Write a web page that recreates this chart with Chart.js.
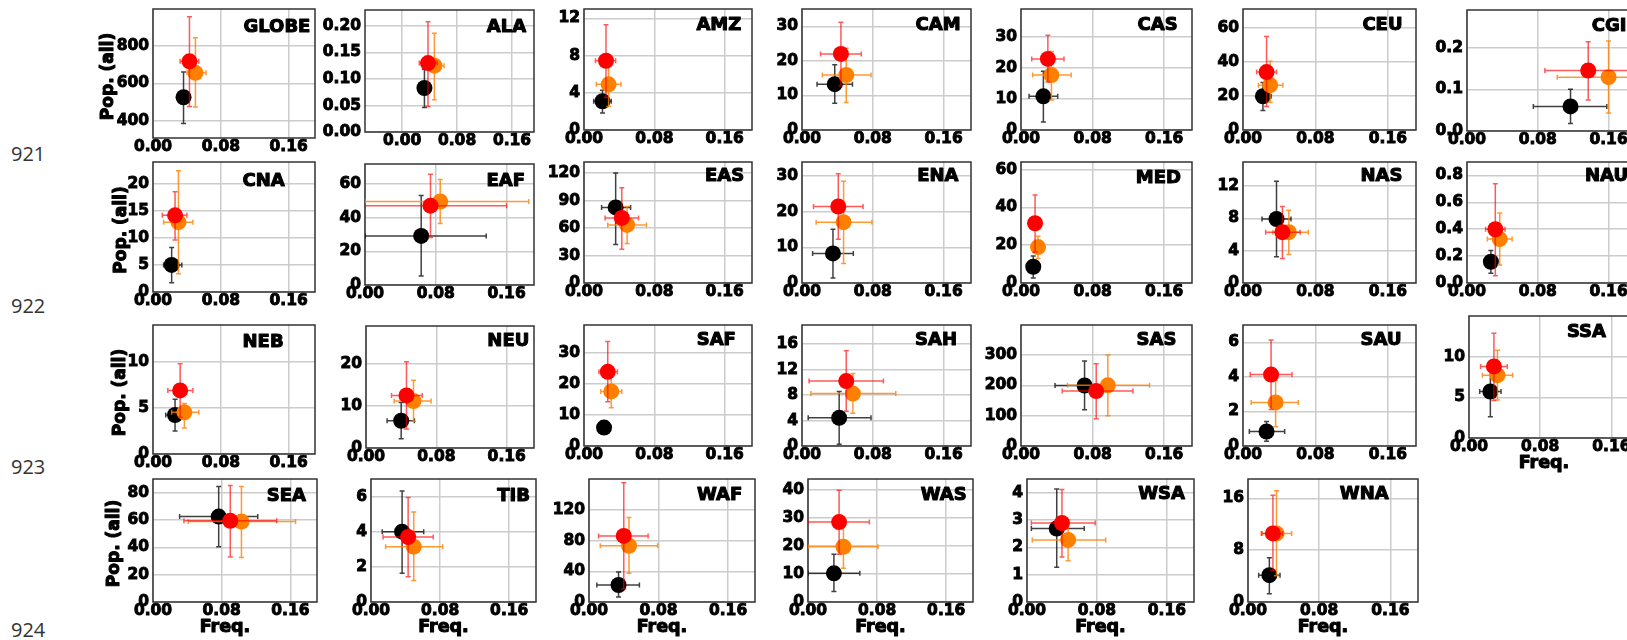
<!DOCTYPE html>
<html><head><meta charset="utf-8">
<script src="https://cdn.jsdelivr.net/npm/chart.js@4.4.0/dist/chart.umd.min.js"></script>
<style>
html,body{margin:0;padding:0;background:#fff;width:1627px;height:640px;overflow:hidden;}
#wrap{position:relative;width:1627px;height:640px;overflow:hidden;background:#fff;}
canvas.pc{position:absolute;}
.ln{position:absolute;left:11px;font-family:'Open Sans',sans-serif;font-size:20px;line-height:20px;color:#333;}
</style></head><body><div id="wrap"></div>
<script>
// ---------------- data ----------------
const regions = ['GLOBE','ALA','AMZ','CAM','CAS','CEU','CGI','CNA','EAF','EAS','ENA','MED','NAS','NAU','NEB','NEU','SAF','SAH','SAS','SAU','SSA','SEA','TIB','WAF','WAS','WSA','WNA'];
const lineNumbers = ['921','922','923','924'];
const yTitle = 'Pop. (all)';
const xTitle = 'Freq.';

const blackFreq   = [.036,.0325,.021,.037,.025,.022,.117, .022,.0635,.036,.035,.0137,.037,.027, .026,.040,.0228,.042,.071,.026,.024, .0765,.036,.034,.030,.034,.024];
const blackFreqLo = [.030,.028,.011,.017,.009,.016,.075, .0125,0,.020,.012,.011,.021,.023, .015,.024,.020,.007,.038,.007,.012, .031,.013,.009,0,.005,.012];
const blackFreqHi = [.042,.037,.031,.057,.041,.031,.158, .034,.137,.053,.058,.017,.053,.031, .034,.055,.026,.078,.090,.046,.036, .122,.061,.058,.060,.0655,.036];
const blackPop    = [525,.083,3.09,13.25,10.84,19.8,.059, 5.0,29.2,82.4,8.3,8.6,7.93,.158, 4.23,6.48,5.94,4.42,199.6,.84,5.72, 62.5,4.0,22.1,10.24,2.69,4.14];
const blackPopLo  = [384,.046,1.82,7.76,2.6,11.5,.018, 1.7,5.3,41.9,1.4,2.6,3.25,.073, 2.49,2.19,5.0,.26,119.7,.28,2.6, 40.4,1.63,6.4,3.76,1.27,1.26];
const blackPopHi  = [661,.1185,4.28,18.9,18.9,27.9,.100, 8.23,53.2,120,15.1,14.3,12.6,.242, 5.94,10.8,7.0,8.54,280.5,1.42,8.92, 84.6,6.32,39.1,17.06,4.13,6.82];

const redFreq   = [.043,.0377,.025,.044,.030,.026,.137, .026,.074,.043,.041,.0157,.0435,.032, .032,.046,.027,.050,.084,.031,.028, .090,.043,.040,.036,.040,.028];
const redFreqLo = [.032,.025,.013,.021,.012,.015,.088, .011,0,.024,.013,.013,.025,.021, .0175,.029,.017,.008,.046,.008,.013, .036,.014,.011,0,.005,.015];
const redFreqHi = [.054,.051,.036,.067,.048,.037,.187, .040,.160,.062,.069,.019,.063,.043, .047,.064,.038,.092,.125,.054,.043, .144,.072,.068,.071,.078,.039];
const redPop    = [718,.130,7.44,22.0,22.9,34.0,.145, 14.15,47.2,71,21.5,31.6,6.3,.40, 6.9,12.5,23.9,10.19,181,4.13,8.8, 59.4,3.7,86,28.6,2.89,10.6];
const redPopLo  = [475,.048,3.5,12.8,15.5,13.8,.0745, 9.6,28.3,36.9,12.3,16.4,3.05,.053, 3.99,4.53,14.3,5.45,89.5,2.11,4.6, 32.9,1.44,17,17.06,1.65,4.9];
const redPopHi  = [958,.208,11.3,31.2,30.5,54.8,.214, 18.5,65.9,104,30.7,46.6,9.47,.739, 9.79,20.5,33.7,14.97,271,6.13,12.88, 85.3,5.95,155,40,4.12,16.5];

const orangeFreq   = [.050,.047,.028,.050,.034,.030,.160, .030,.085,.049,.047,.019,.0506,.037, .037,.054,.031,.0575,.097,.036,.032, .103,.0495,.046,.041,.047,.032];
const orangeFreqLo = [.040,.035,.014,.023,.013,.017,.102, .0125,0,.027,.016,.015,.033,.023, .022,.032,.019,.010,.052,.009,.015, .041,.017,.013,0,.006,.016];
const orangeFreqHi = [.0625,.061,.042,.078,.056,.044,.200, .047,.185,.071,.079,.023,.072,.051, .054,.074,.043,.106,.1435,.061,.049, .166,.083,.079,.081,.090,.049];
const orangePop    = [656,.125,4.91,15.9,17.7,26.3,.129, 12.9,49.7,63.4,17.1,19,6.3,.327, 4.52,11.17,17.6,8.23,200,2.52,7.72, 58.9,3.15,73.2,19.76,2.27,10.6];
const orangePopLo  = [472,.061,2.53,7.95,9.7,16.3,.043, 3.35,36.6,43,5.5,12.9,3.54,.133, 2.81,6.33,12.3,5.14,100,1.12,4.68, 32.5,1.22,37.4,12.1,1.51,4.04];
const orangePopHi  = [844,.186,7.37,23.65,25.3,40.4,.216, 22.4,62.8,83.5,28.6,24.7,9.02,.521, 5.48,16.1,23.1,11.37,300,3.79,10.8, 84.6,5.12,109.8,27.4,3.01,17.2];

// axis ranges and tick labels
const popMin = [306,0,0,0,0,0,0, 0,0,0,0,0,0,0, 0,0,0,0,0,0,0, 0,0,0,0,0,0];
const popMax = [999,.23,13,35,39,71,.29, 24,72,132,34,64,15,.9, 14,29,39,19,399,7,15, 90,7,160,44,4.5,19];
const popTicks = [[400,600,800],[0,.05,.1,.15,.2],[0,4,8,12],[0,10,20,30],[0,10,20,30],[0,20,40,60],[0,.1,.2],
  [0,5,10,15,20],[0,20,40,60],[0,30,60,90,120],[0,10,20,30],[0,20,40,60],[0,4,8,12],[0,.2,.4,.6,.8],
  [0,5,10],[0,10,20],[0,10,20,30],[0,4,8,12,16],[0,100,200,300],[0,2,4,6],[0,5,10],
  [0,20,40,60,80],[0,2,4,6],[0,40,80,120],[0,10,20,30,40],[0,1,2,3,4],[0,8,16]];
const popDecimals = [0,2,0,0,0,0,1, 0,0,0,0,0,0,1, 0,0,0,0,0,0,0, 0,0,0,0,0,0];
const freqMin = [0,-.054,0,0,0,0,0, 0,0,0,0,0,0,0, 0,0,0,0,0,0,0, 0,0,0,0,0,0];
const freqMax = [.191,.192,.191,.191,.191,.191,.191, .191,.191,.191,.191,.191,.191,.191, .191,.191,.191,.191,.191,.191,.191, .191,.191,.191,.191,.191,.191];
const freqTicks = [0,.08,.16];

// ---------------- layout (positions / styles) ----------------
const panelBox = [
  [153,7,317,138],[365,8,536,132],[584,7,754,130],[802,7,973,130],[1021,7,1194,130],[1243,7,1418,130],[1467,8,1638,131],
  [153,160,317,292],[365,162,536,285],[584,160,754,283],[802,160,973,283],[1021,160,1194,283],[1243,160,1418,283],[1467,160,1638,283],
  [153,323,317,454],[366,324,536,448],[584,323,754,446],[802,323,973,446],[1021,323,1194,446],[1243,323,1418,446],[1469,314,1641,438],
  [153,477,319,602],[371,477,538,602],[589,477,757,602],[808,477,975,602],[1027,477,1196,602],[1248,477,1420,602]];
const labelRight = [4.6,7.8,10.7,10.4,14.3,13.5,9.5, 30.3,8.9,7.9,12.5,11.1,13.5,8, 31.4,4.7,16.1,14,15.6,14.5,33, 11,6.1,12.8,6.4,9.1,29.3];
const labelTop = [10,8.4,8.3,8.3,8.3,8.3,7.7, 10.7,8.4,6,6,8.3,6,6, 9,6.4,7.3,7.3,7.3,7.3,7.7, 9.3,9.3,8.3,8.3,6.7,6.7];
const yTitleDx = {0:44, 7:31.5, 14:32.4, 21:38};
const xTitlePanels = [20,21,22,23,24,25,26];
const lineNumberTop = [144, 295.5, 456.5, 620];

const FONT = 'DejaVu Sans';
const Y_W = 60, PAD_T = 6, PAD_R = 6, X_H = 46;
const STROKE = 0.9;

const errorBars = {
  id: 'errorBars',
  beforeDatasetDraw(chart, args) {
    const ds = chart.data.datasets[args.index];
    const {ctx, chartArea: a} = chart;
    const xs = chart.scales.x, ys = chart.scales.y;
    ctx.save();
    ctx.beginPath(); ctx.rect(a.left, a.top, a.right - a.left, a.bottom - a.top); ctx.clip();
    ctx.strokeStyle = ds.errColor; ctx.lineWidth = 1.5;
    const cap = 2.5;
    ds.data.forEach(d => {
      const px = xs.getPixelForValue(d.x), py = ys.getPixelForValue(d.y);
      const x1 = xs.getPixelForValue(d.xMin), x2 = xs.getPixelForValue(d.xMax);
      const y1 = ys.getPixelForValue(d.yMin), y2 = ys.getPixelForValue(d.yMax);
      ctx.beginPath();
      ctx.moveTo(x1, py); ctx.lineTo(x2, py);
      ctx.moveTo(x1, py - cap); ctx.lineTo(x1, py + cap);
      ctx.moveTo(x2, py - cap); ctx.lineTo(x2, py + cap);
      ctx.moveTo(px, y1); ctx.lineTo(px, y2);
      ctx.moveTo(px - cap, y1); ctx.lineTo(px + cap, y1);
      ctx.moveTo(px - cap, y2); ctx.lineTo(px + cap, y2);
      ctx.stroke();
    });
    ctx.restore();
  }
};

function heavyText(ctx, text, x, y) {
  ctx.lineJoin = 'round';
  ctx.strokeStyle = '#000';
  ctx.lineWidth = STROKE * 1.2;
  ctx.strokeText(text, x, y);
  ctx.fillText(text, x, y);
}

const decor = {
  id: 'decor',
  beforeDatasetsDraw(chart) {
    const {ctx, chartArea: a} = chart;
    ctx.save();
    ctx.strokeStyle = '#333'; ctx.lineWidth = 1.5;
    ctx.strokeRect(a.left, a.top, a.right - a.left, a.bottom - a.top);
    ctx.restore();
  },
  afterDraw(chart, args, o) {
    const {ctx, chartArea: a} = chart;
    ctx.save();
    ctx.fillStyle = '#000';
    ctx.font = 'bold 18px "' + FONT + '"';
    ctx.textAlign = 'right'; ctx.textBaseline = 'alphabetic';
    heavyText(ctx, o.name, a.right - o.labelRight, a.top + o.labelTop + 13.1);
    if (o.yTitle) {
      ctx.save();
      ctx.translate(a.left - o.yTitleDx, (a.top + a.bottom) / 2 + 3);
      ctx.rotate(-Math.PI / 2);
      ctx.font = 'bold 17px "' + FONT + '"';
      ctx.textAlign = 'center'; ctx.textBaseline = 'middle';
      heavyText(ctx, o.yTitle, 0, 0);
      ctx.restore();
    }
    if (o.xTitle) {
      ctx.font = 'bold 17.5px "' + FONT + '"';
      ctx.textAlign = 'center'; ctx.textBaseline = 'alphabetic';
      heavyText(ctx, o.xTitle, (a.left + a.right) / 2 - 10, a.bottom + 30);
    }
    ctx.restore();
  }
};

const wrap = document.getElementById('wrap');
lineNumbers.forEach((t, k) => {
  const d = document.createElement('div');
  d.className = 'ln'; d.textContent = t; d.style.top = lineNumberTop[k] + 'px';
  wrap.appendChild(d);
});

function pts(i, fx, flo, fhi, py, plo, phi) {
  return [{x: fx[i], y: py[i], xMin: flo[i], xMax: fhi[i], yMin: plo[i], yMax: phi[i]}];
}

const tickFont = {family: FONT, size: 15.5, weight: 'bold'};

regions.forEach((name, i) => {
  const [L, T, R, B] = panelBox[i];
  const pw = R - L, ph = B - T;
  const cv = document.createElement('canvas');
  cv.className = 'pc';
  cv.width = Y_W + pw + PAD_R;
  cv.height = PAD_T + ph + X_H;
  cv.style.left = (L - Y_W) + 'px';
  cv.style.top = (T - PAD_T) + 'px';
  wrap.appendChild(cv);
  const dec = popDecimals[i];
  new Chart(cv, {
    type: 'scatter',
    data: {
      datasets: [
        {label: 'black', order: 2, data: pts(i, blackFreq, blackFreqLo, blackFreqHi, blackPop, blackPopLo, blackPopHi),
         backgroundColor: '#000000', borderColor: '#000000', errColor: 'rgba(0,0,0,0.75)'},
        {label: 'red', order: 0, data: pts(i, redFreq, redFreqLo, redFreqHi, redPop, redPopLo, redPopHi),
         backgroundColor: '#ff0000', borderColor: '#ff0000', errColor: 'rgba(255,0,0,0.65)'},
        {label: 'orange', order: 1, data: pts(i, orangeFreq, orangeFreqLo, orangeFreqHi, orangePop, orangePopLo, orangePopHi),
         backgroundColor: '#ff8000', borderColor: '#ff8000', errColor: 'rgba(255,128,0,0.8)'}
      ]
    },
    options: {
      responsive: false, animation: false, devicePixelRatio: 1, events: [],
      layout: {padding: {left: 0, top: PAD_T, right: PAD_R, bottom: 0}},
      elements: {point: {radius: 8, hoverRadius: 8, borderWidth: 0}},
      datasets: {scatter: {clip: false}},
      plugins: {
        legend: {display: false}, tooltip: {enabled: false},
        decor: {name: name, labelRight: labelRight[i], labelTop: labelTop[i],
                yTitle: (i in yTitleDx) ? yTitle : null, yTitleDx: yTitleDx[i] || 0,
                xTitle: xTitlePanels.includes(i) ? xTitle : null}
      },
      scales: {
        x: {
          type: 'linear', position: 'bottom', min: freqMin[i], max: freqMax[i],
          afterBuildTicks: s => { s.ticks = freqTicks.map(v => ({value: v})); },
          afterFit: s => { s.height = X_H; s.paddingLeft = 0; s.paddingRight = 0; },
          grid: {color: '#cccccc', lineWidth: 1.5, drawTicks: false},
          border: {display: false},
          ticks: {font: tickFont, color: '#000', padding: 0, maxRotation: 0, autoSkip: false,
                  textStrokeColor: '#000', textStrokeWidth: STROKE,
                  callback: v => Number(v).toFixed(2)}
        },
        y: {
          type: 'linear', position: 'left', min: popMin[i], max: popMax[i],
          afterBuildTicks: s => { s.ticks = popTicks[i].map(v => ({value: v})); },
          afterFit: s => { s.width = Y_W; s.paddingTop = 0; s.paddingBottom = 0; },
          grid: {color: '#cccccc', lineWidth: 1.5, drawTicks: false},
          border: {display: false},
          ticks: {font: tickFont, color: '#000', padding: 4, autoSkip: false,
                  textStrokeColor: '#000', textStrokeWidth: STROKE,
                  callback: v => Number(v).toFixed(dec)}
        }
      }
    },
    plugins: [errorBars, decor]
  });
});
</script>
</body></html>
